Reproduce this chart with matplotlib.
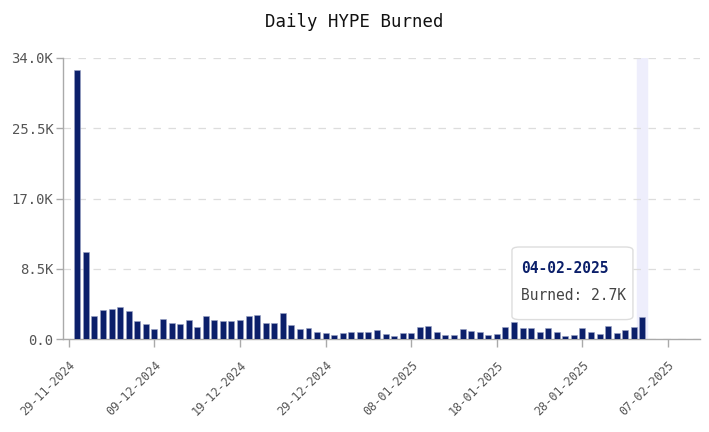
import matplotlib.pyplot as plt
import matplotlib.dates as mdates
from matplotlib.patches import FancyBboxPatch
import pandas as pd

# daily burn, 30-11-2024 .. 04-02-2025
start_date = "2024-11-30"
burned = [32500, 10600, 2850, 3500, 3630, 3940, 3360, 2180, 1820, 1210,
          2460, 1970, 1820, 2340, 1520, 2770, 2340, 2180, 2180, 2340,
          2770, 2970, 1990, 1990, 3120, 1760, 1290, 1360, 930, 700,
          550, 820, 890, 850, 850, 1150, 590, 390, 700, 700,
          1520, 1590, 930, 510, 470, 1250, 970, 830, 510, 590,
          1440, 2030, 1320, 1320, 890, 1360, 890, 390, 510, 1400,
          890, 660, 1560, 740, 1090, 1440, 2700]
dates = pd.date_range(start_date, periods=len(burned), freq="D")

y_ticks = [0, 8500, 17000, 25500, 34000]
y_tick_labels = ["0.0", "8.5K", "17.0K", "25.5K", "34.0K"]
x_ticks = pd.date_range("2024-11-29", periods=8, freq="10D")
x_lim = (pd.Timestamp("2024-11-28 08:00"), pd.Timestamp("2025-02-10 17:00"))

navy = "#0b1f6a"
mono = "DejaVu Sans Mono"

fig = plt.figure(figsize=(7.09, 4.32), dpi=100)
ax = fig.add_axes([0.089, 0.2146, 0.898, 0.6514])

# hover highlight on last day
ax.axvspan(dates[-1] - pd.Timedelta(hours=14), dates[-1] + pd.Timedelta(hours=14),
           color="#eeeefc", zorder=0)

ax.bar(dates, burned, width=0.7, color=navy, edgecolor="#9aa2c4", linewidth=0.4, zorder=3)

ax.set_ylim(0, 34000)
ax.set_xlim(*x_lim)
ax.set_yticks(y_ticks)
ax.set_yticklabels(y_tick_labels)
ax.set_xticks(x_ticks)
ax.xaxis.set_major_formatter(mdates.DateFormatter("%d-%m-%Y"))

ax.grid(axis="y", color="#dddddd", linestyle=(0, (6, 6)), linewidth=0.9, zorder=1)
for s in ["top", "right"]:
    ax.spines[s].set_visible(False)
for s in ["left", "bottom"]:
    ax.spines[s].set_color("#aaaaaa")
    ax.spines[s].set_linewidth(1)

ax.tick_params(axis="y", colors="#aaaaaa", labelcolor="#555555", length=5, width=1,
               labelsize=10, pad=2)
ax.tick_params(axis="x", colors="#aaaaaa", labelcolor="#555555", length=6, width=1,
               labelsize=8.5, pad=8)
for lab in ax.get_yticklabels() + ax.get_xticklabels():
    lab.set_family(mono)
for lab in ax.get_xticklabels():
    lab.set_rotation(45)
    lab.set_ha("right")
    lab.set_rotation_mode("anchor")

fig.suptitle("Daily HYPE Burned", family=mono, fontsize=12.5, y=0.949, va="center",
             color="#111111")

# tooltip
box = FancyBboxPatch((0.705, 0.07), 0.19, 0.258, transform=ax.transAxes,
                     boxstyle="round,pad=0,rounding_size=0.012",
                     facecolor="white", edgecolor="#dddddd", linewidth=1, zorder=5)
ax.add_patch(box)
ax.text(0.719, 0.25, dates[-1].strftime("%d-%m-%Y"), transform=ax.transAxes,
        family=mono, fontsize=10.5, fontweight="bold", color=navy, va="center", zorder=6)
ax.text(0.719, 0.154, f"Burned: {burned[-1] / 1000:.1f}K", transform=ax.transAxes,
        family=mono, fontsize=10.5, color="#444444", va="center", zorder=6)

fig.savefig("out.png", dpi=100)
